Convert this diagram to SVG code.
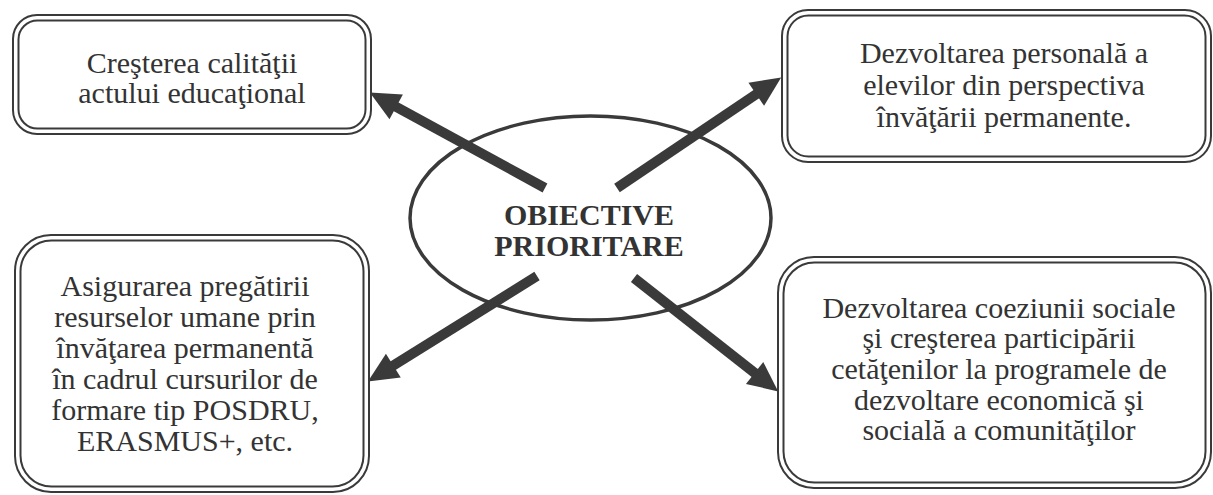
<svg xmlns="http://www.w3.org/2000/svg" width="1213" height="495" viewBox="0 0 1213 495">
<style>
.bo{fill:#fff;stroke:#3a3a3a;stroke-width:2}
.bi{fill:none;stroke:#3a3a3a;stroke-width:2}
.t{font-family:"Liberation Serif","Times New Roman",serif;font-size:30px;fill:#333;text-anchor:middle}
.tb{font-weight:bold}
.ar{stroke:#3a3a3a;stroke-width:10;fill:none}
</style>
<defs>
<marker id="ah" markerUnits="userSpaceOnUse" viewBox="0 -15 32 30" refX="1" refY="0" markerWidth="32" markerHeight="30" orient="auto" overflow="visible">
<path d="M0,-14 L30,0 L0,14 z" fill="#3a3a3a"/>
</marker>
</defs>
<rect width="1213" height="495" fill="#fff"/>
<g id="n1">
<rect class="bo" x="13" y="15" width="358" height="119" rx="24"/>
<rect class="bi" x="18.5" y="20.5" width="347" height="108" rx="19"/>
<text class="t" x="192" y="73">Creşterea calităţii</text>
<text class="t" x="192" y="103">actului educaţional</text>
</g>
<g id="n2">
<rect class="bo" x="782" y="10" width="429" height="152" rx="26"/>
<rect class="bi" x="787.5" y="15.5" width="418" height="141" rx="21"/>
<text class="t" x="1004" y="63">Dezvoltarea personală a</text>
<text class="t" x="1004" y="95">elevilor din perspectiva</text>
<text class="t" x="1004" y="127">învăţării permanente.</text>
</g>
<g id="n3">
<rect class="bo" x="15" y="235" width="354" height="257" rx="36"/>
<rect class="bi" x="20.5" y="240.5" width="343" height="246" rx="31"/>
<text class="t" x="185" y="296">Asigurarea pregătirii</text>
<text class="t" x="185" y="327">resurselor umane prin</text>
<text class="t" x="185" y="358">învăţarea permanentă</text>
<text class="t" x="185" y="389">în cadrul cursurilor de</text>
<text class="t" x="185" y="420">formare tip POSDRU,</text>
<text class="t" x="185" y="451">ERASMUS+, etc.</text>
</g>
<g id="n4">
<rect class="bo" x="778" y="257" width="433" height="231" rx="36"/>
<rect class="bi" x="783.5" y="262.5" width="422" height="220" rx="31"/>
<text class="t" x="999" y="318">Dezvoltarea coeziunii sociale</text>
<text class="t" x="999" y="348">şi creşterea participării</text>
<text class="t" x="999" y="379">cetăţenilor la programele de</text>
<text class="t" x="999" y="410">dezvoltare economică şi</text>
<text class="t" x="999" y="440">socială a comunităţilor</text>
</g>
<g id="center">
<ellipse cx="590.5" cy="218" rx="180.5" ry="102" fill="none" stroke="#3a3a3a" stroke-width="3.5"/>
<text class="t tb" x="589" y="225">OBIECTIVE</text>
<text class="t tb" x="589" y="256">PRIORITARE</text>
</g>
<g id="connectors">
<line class="ar" x1="545" y1="188" x2="395.3" y2="106.4" marker-end="url(#ah)"/>
<line class="ar" x1="617" y1="188" x2="757.1" y2="93.7" marker-end="url(#ah)"/>
<line class="ar" x1="537" y1="276" x2="392.5" y2="366.1" marker-end="url(#ah)"/>
<line class="ar" x1="634" y1="278" x2="755.4" y2="373.5" marker-end="url(#ah)"/>
</g>
</svg>
